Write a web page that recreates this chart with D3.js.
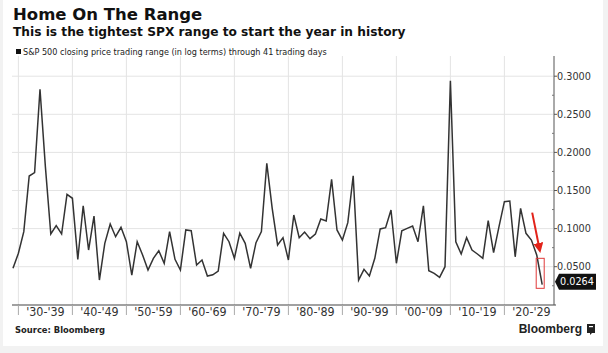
<!DOCTYPE html>
<html>
<head>
<meta charset="utf-8">
<script src="https://cdn.jsdelivr.net/npm/d3@7"></script>
<style>
  body { margin: 0; background: #f2f2f2; }
  svg { display: block; }
</style>
</head>
<body>
<div id="chart"></div>
<script>
// S&P 500 closing price range (log terms) through 41 trading days, one value per year
var rangeValues = [
  0.0479, 0.0676, 0.0960, 0.1690, 0.1734, 0.2828, 0.1810, 0.0929, 0.1038, 0.0929,
  0.1450, 0.1398, 0.0597, 0.1300, 0.0719, 0.1165, 0.0325, 0.0807, 0.1060, 0.0894,
  0.1017, 0.0828, 0.0391, 0.0828, 0.0654, 0.0457, 0.0610, 0.0710, 0.0545, 0.0960,
  0.0597, 0.0457, 0.0982, 0.0972, 0.0522, 0.0588, 0.0378, 0.0394, 0.0443, 0.0938,
  0.0828, 0.0610, 0.0941, 0.0807, 0.0479, 0.0815, 0.0960, 0.1857, 0.1266, 0.0785,
  0.0881, 0.0588, 0.1178, 0.0881, 0.0955, 0.0868, 0.0929, 0.1126, 0.1100, 0.1647,
  0.0982, 0.0850, 0.1078, 0.1694, 0.0325, 0.0466, 0.0378, 0.0610, 0.0995, 0.1012,
  0.1244, 0.0545, 0.0970, 0.1003, 0.1034, 0.0828, 0.1300, 0.0448, 0.0413, 0.0361,
  0.0500, 0.2941, 0.0828, 0.0667, 0.0881, 0.0719, 0.0667, 0.0610, 0.1104, 0.0684,
  0.1025, 0.1353, 0.1362, 0.0630, 0.1266, 0.0938, 0.0850, 0.0650, 0.0264
];
var decadeLabels = ["'30-'39", "'40-'49", "'50-'59", "'60-'69", "'70-'79",
                    "'80-'89", "'90-'99", "'00-'09", "'10-'19", "'20-'29"];
var decadeStarts = [1, 11, 21, 31, 41, 51, 61, 71, 81, 91];   // index of first point in each decade slot
var yTicks = [0.05, 0.10, 0.15, 0.20, 0.25, 0.30];
var yMinorTicks = [0.025, 0.075, 0.125, 0.175, 0.225, 0.275];
var lastValue = 0.0264;

var width = 608, height = 353;
var svg = d3.select("#chart").append("svg")
    .attr("width", width)
    .attr("height", height);

// white card
svg.append("rect")
    .attr("x", 3).attr("y", 0)
    .attr("width", 600).attr("height", 346)
    .attr("fill", "#fff");

var plotLeft = 12, plotRight = 553, plotTop = 56, plotBottom = 305;

var x = d3.scaleLinear().domain([0, 100]).range([13, 553]);
var y = d3.scaleLinear().domain([0, 0.3]).range([304.8, 76.2]);

// titles
svg.append("text")
    .attr("x", 13).attr("y", 20)
    .attr("font-family", "DejaVu Sans").attr("font-weight", "bold")
    .attr("font-size", 16.5).attr("fill", "#111")
    .text("Home On The Range");
svg.append("text")
    .attr("x", 13).attr("y", 35.5)
    .attr("font-family", "DejaVu Sans").attr("font-weight", "bold")
    .attr("font-size", 12.2).attr("fill", "#111")
    .text("This is the tightest SPX range to start the year in history");

// legend
svg.append("rect")
    .attr("x", 16).attr("y", 49)
    .attr("width", 5).attr("height", 5)
    .attr("fill", "#111");
svg.append("text")
    .attr("x", 23).attr("y", 54.5)
    .attr("font-family", "DejaVu Sans Condensed")
    .attr("font-size", 9).attr("fill", "#222")
    .text("S&P 500 closing price trading range (in log terms) through 41 trading days");

// gridlines
svg.append("g").selectAll("line")
    .data(yTicks)
    .join("line")
    .attr("x1", plotLeft).attr("x2", plotRight)
    .attr("y1", d => y(d)).attr("y2", d => y(d))
    .attr("stroke", "#e4e4e4").attr("stroke-width", 1);

svg.append("g").selectAll("line")
    .data(decadeStarts)
    .join("line")
    .attr("x1", d => x(d)).attr("x2", d => x(d))
    .attr("y1", plotTop).attr("y2", plotBottom)
    .attr("stroke", "#e4e4e4").attr("stroke-width", 1);

// bottom axis
svg.append("line")
    .attr("x1", plotLeft).attr("x2", 556)
    .attr("y1", plotBottom).attr("y2", plotBottom)
    .attr("stroke", "#444").attr("stroke-width", 1.2);

svg.append("g").selectAll("line")
    .data(decadeStarts)
    .join("line")
    .attr("x1", d => x(d)).attr("x2", d => x(d))
    .attr("y1", plotBottom).attr("y2", plotBottom + 10)
    .attr("stroke", "#aaa").attr("stroke-width", 1);

svg.append("g").selectAll("text")
    .data(decadeLabels)
    .join("text")
    .attr("x", (d, i) => (x(decadeStarts[i]) + x(decadeStarts[i] + 10)) / 2)
    .attr("y", 316)
    .attr("text-anchor", "middle")
    .attr("font-family", "DejaVu Sans Condensed")
    .attr("font-size", 12.4).attr("fill", "#333")
    .text(d => d);

// right axis
svg.append("line")
    .attr("x1", plotRight + 1).attr("x2", plotRight + 1)
    .attr("y1", plotTop).attr("y2", plotBottom)
    .attr("stroke", "#555").attr("stroke-width", 1);

svg.append("g").selectAll("line")
    .data(yTicks)
    .join("line")
    .attr("x1", plotRight + 1).attr("x2", plotRight + 4)
    .attr("y1", d => y(d)).attr("y2", d => y(d))
    .attr("stroke", "#555");

svg.append("g").selectAll("line")
    .data(yMinorTicks)
    .join("line")
    .attr("x1", plotRight - 1).attr("x2", plotRight + 1)
    .attr("y1", d => y(d)).attr("y2", d => y(d))
    .attr("stroke", "#777");

svg.append("g").selectAll("text")
    .data(yTicks)
    .join("text")
    .attr("x", plotRight + 4)
    .attr("y", d => y(d))
    .attr("dy", "0.36em")
    .attr("font-family", "DejaVu Sans")
    .attr("font-size", 9.7).attr("fill", "#333")
    .text(d => d3.format(".4f")(d));

// the line
var line = d3.line()
    .x((d, i) => x(i))
    .y(d => y(d));

svg.append("path")
    .datum(rangeValues)
    .attr("d", line)
    .attr("fill", "none")
    .attr("stroke", "#333")
    .attr("stroke-width", 1.5)
    .attr("stroke-linejoin", "miter");

// last value callout
var ly = y(lastValue) - 3;
svg.append("path")
    .attr("d", "M" + (plotRight + 2) + "," + ly +
               "L" + (plotRight + 6) + "," + (ly - 8) +
               "L596," + (ly - 8) + "L596," + (ly + 8) +
               "L" + (plotRight + 6) + "," + (ly + 8) + "Z")
    .attr("fill", "#111");
svg.append("text")
    .attr("x", plotRight + 7).attr("y", ly)
    .attr("dy", "0.36em")
    .attr("font-family", "DejaVu Sans")
    .attr("font-size", 9.7).attr("fill", "#fff")
    .text(d3.format(".4f")(lastValue));

// red highlight box and arrow on the last point
var lastIdx = rangeValues.length - 1;
svg.append("rect")
    .attr("x", x(lastIdx) - 6).attr("y", y(0.061))
    .attr("width", 8).attr("height", 30)
    .attr("fill", "none")
    .attr("stroke", "#e03a3a").attr("stroke-width", 1);

svg.append("defs").append("marker")
    .attr("id", "arrowhead")
    .attr("viewBox", "0 0 10 10")
    .attr("refX", 7).attr("refY", 5)
    .attr("markerWidth", 5).attr("markerHeight", 5)
    .attr("orient", "auto")
    .append("path")
    .attr("d", "M0,0L10,5L0,10Z")
    .attr("fill", "#e2231a");

svg.append("line")
    .attr("x1", x(lastIdx) - 10).attr("y1", y(0.121))
    .attr("x2", x(lastIdx) - 2.5).attr("y2", y(0.072))
    .attr("stroke", "#e2231a").attr("stroke-width", 2)
    .attr("marker-end", "url(#arrowhead)");

// footer
svg.append("text")
    .attr("x", 15).attr("y", 333)
    .attr("font-family", "DejaVu Sans").attr("font-weight", "bold")
    .attr("font-size", 8.4).attr("fill", "#222")
    .text("Source: Bloomberg");

svg.append("text")
    .attr("x", 582).attr("y", 333)
    .attr("text-anchor", "end")
    .attr("font-family", "Liberation Sans").attr("font-weight", "bold")
    .attr("font-size", 12).attr("fill", "#222")
    .text("Bloomberg");

svg.append("path")
    .attr("d", "M587,324h8v9h-3l-2,2v-2h-3Z")
    .attr("fill", "#222");
svg.append("rect")
    .attr("x", 589).attr("y", 326).attr("width", 4).attr("height", 1.2)
    .attr("fill", "#fff");
</script>
</body>
</html>
